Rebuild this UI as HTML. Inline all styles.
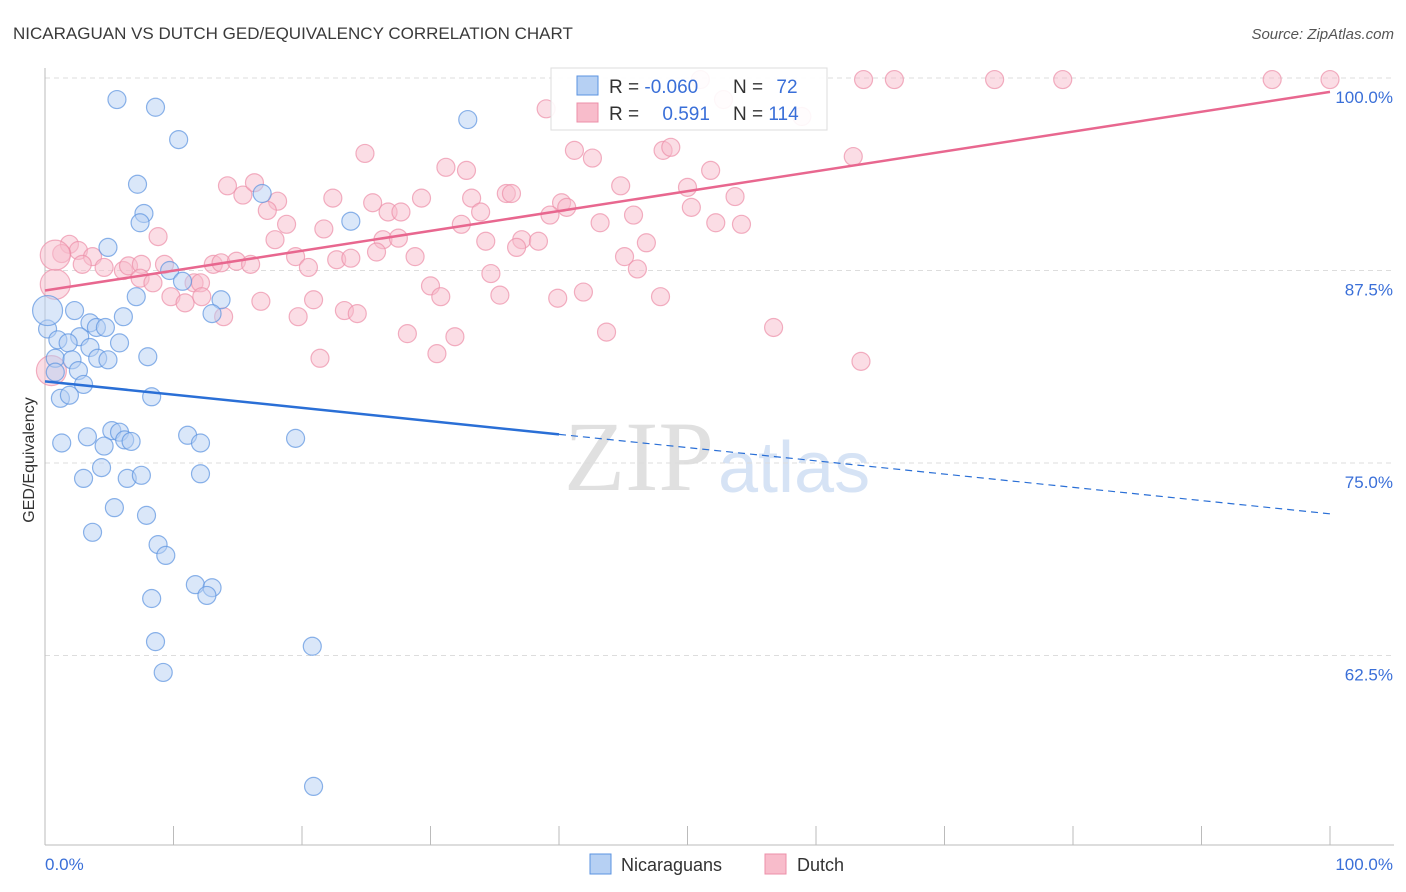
<!DOCTYPE html>
<html><head><meta charset="utf-8">
<style>
body{margin:0;background:#fff;font-family:"Liberation Sans",sans-serif;}
#wrap{position:relative;width:1406px;height:892px;overflow:hidden;}
svg{position:absolute;left:0;top:0;}
</style></head>
<body>
<div id="wrap">
<svg id="chart" width="1406" height="892">
<text x="13" y="39" font-size="17" fill="#3a3a3a">NICARAGUAN VS DUTCH GED/EQUIVALENCY CORRELATION CHART</text>
<text x="1394" y="39" font-size="15" fill="#555" font-style="italic" text-anchor="end">Source: ZipAtlas.com</text>
<text x="34" y="460" font-size="16" fill="#333" transform="rotate(-90 34 460)" text-anchor="middle">GED/Equivalency</text>
<text x="714" y="490" font-size="100" fill="#e0e0e0" font-family="Liberation Serif,serif" text-anchor="end">ZIP</text>
<text x="718" y="492" font-size="72" fill="#d6e3f5">atlas</text>
<g id="grid"></g><g id="pts"></g><g id="lines"></g>
</svg>
</div>
<script>
const blueX=[5.6,8.6,10.4,32.9,7.2,16.9,7.7,7.4,23.8,4.9,9.7,10.7,7.1,13.7,13.0,2.3,6.1,3.5,4.0,4.7,0.2,2.7,1.0,1.8,5.8,3.5,0.8,2.1,4.1,4.9,8.0,2.6,0.8,3.0,8.3,1.2,1.9,1.3,3.3,5.2,5.8,6.2,6.7,11.1,12.1,19.5,4.6,4.4,3.0,6.4,7.5,12.1,5.4,7.9,3.7,8.8,9.4,11.7,13.0,12.6,8.3,8.6,20.8,9.2,20.9,0.2];
const blueY=[98.6,98.1,96.0,97.3,93.1,92.5,91.2,90.6,90.7,89.0,87.5,86.8,85.8,85.6,84.7,84.9,84.5,84.1,83.8,83.8,83.7,83.2,83.0,82.8,82.8,82.5,81.8,81.7,81.8,81.7,81.9,81.0,80.9,80.1,79.3,79.2,79.4,76.3,76.7,77.1,77.0,76.5,76.4,76.8,76.3,76.6,76.1,74.7,74.0,74.0,74.2,74.3,72.1,71.6,70.5,69.7,69.0,67.1,66.9,66.4,66.2,63.4,63.1,61.4,54.0,84.9];
const pinkX=[63.7,66.1,73.9,79.2,95.5,100,51.0,39.0,52.8,58.9,24.9,41.2,42.6,48.1,48.7,62.9,31.2,32.8,51.8,14.2,15.4,16.3,18.1,44.8,50.0,53.7,22.4,25.5,29.3,35.9,36.3,33.2,40.2,40.6,17.3,26.7,27.7,33.9,39.3,45.8,50.3,18.8,21.7,32.4,43.2,52.2,54.2,8.8,17.9,26.3,27.5,34.3,37.1,38.4,46.8,1.9,2.6,1.3,3.7,2.9,4.6,6.1,6.5,7.5,9.3,13.1,13.7,14.9,16.0,19.5,20.5,22.7,23.8,25.8,28.8,36.7,45.1,34.7,46.1,7.4,8.4,11.6,12.1,9.8,10.9,12.2,16.8,20.9,30.0,30.8,35.4,39.9,41.9,47.9,13.9,19.7,23.3,24.3,28.2,31.9,43.7,56.7,21.4,30.5,63.5,0.8,0.8,0.5];
const pinkY=[99.9,99.9,99.9,99.9,99.9,99.9,99.9,98.0,98.6,97.5,95.1,95.3,94.8,95.3,95.5,94.9,94.2,94.0,94.0,93.0,92.4,93.2,92.0,93.0,92.9,92.3,92.2,91.9,92.2,92.5,92.5,92.2,91.9,91.6,91.4,91.3,91.3,91.3,91.1,91.1,91.6,90.5,90.2,90.5,90.6,90.6,90.5,89.7,89.5,89.5,89.6,89.4,89.5,89.4,89.3,89.2,88.8,88.6,88.4,87.9,87.7,87.5,87.8,87.9,87.9,87.9,88.0,88.1,87.9,88.4,87.7,88.2,88.3,88.7,88.4,89.0,88.4,87.3,87.6,87.0,86.7,86.7,86.7,85.8,85.4,85.8,85.5,85.6,86.5,85.8,85.9,85.7,86.1,85.8,84.5,84.5,84.9,84.7,83.4,83.2,83.5,83.8,81.8,82.1,81.6,86.6,88.5,81.0];
const yTicks=[100,87.5,75,62.5];
const yTickLabels=["100.0%","87.5%","75.0%","62.5%"];
const blueTrend=[80.3,71.7];
const pinkTrend=[86.2,99.1];
const NS="http://www.w3.org/2000/svg";
const X=v=>45+v*12.85, Y=v=>78+(100-v)*15.4;
function mk(tag,attrs,parent){const e=document.createElementNS(NS,tag);for(const k in attrs)e.setAttribute(k,attrs[k]);parent.appendChild(e);return e;}
const grid=document.getElementById('grid'),pts=document.getElementById('pts'),lines=document.getElementById('lines');
yTicks.forEach((t,i)=>{
 const l=mk('line',{x1:45,x2:1394,y1:Y(t),y2:Y(t),stroke:'#ddd','stroke-dasharray':'5,4'},grid);
 
 
 const tx=mk('text',{x:1393,y:Y(t)+25,'font-size':17,fill:'#3a6fd8','text-anchor':'end'},grid);
 tx.textContent=yTickLabels[i];
 
 
});
const ax=mk('line',{x1:45,x2:45,y1:68,y2:845,stroke:'#bbb'},grid);


const bx=mk('line',{x1:45,x2:1394,y1:845,y2:845,stroke:'#bbb'},grid);


for(let i=0;i<=10;i++){const t=mk('line',{x1:X(i*10),x2:X(i*10),y1:826,y2:845,stroke:'#bbb'},grid);
 
 }
[["0.0%",45,'start'],["100.0%",1393,'end']].forEach(a=>{const t=mk('text',{x:a[1],y:870,'font-size':17,fill:'#3a6fd8','text-anchor':a[2]},grid);t.textContent=a[0];
 
 });
function dot(x,y,r,fill,stroke,name){const c=mk('circle',{cx:X(x),cy:Y(y),r:r,fill:fill,'fill-opacity':0.5,stroke:stroke,'stroke-opacity':0.7,'stroke-width':1.2},pts);
 
 }
pinkX.forEach((x,i)=>dot(x,pinkY[i],i>=pinkX.length-3?15:9,'#f8bccb','#ec8fa8','dutch-point'));
blueX.forEach((x,i)=>dot(x,blueY[i],i==blueX.length-1?15:9,'#b6d0f3','#5b93e0','nicaraguan-point'));
const bs=blueTrend[0]+(blueTrend[1]-blueTrend[0])*0.4;
const l1=mk('line',{x1:X(0),y1:Y(blueTrend[0]),x2:X(40),y2:Y(bs),stroke:'#2a6fd6','stroke-width':2.5},lines);


const l2=mk('line',{x1:X(40),y1:Y(bs),x2:X(100),y2:Y(blueTrend[1]),stroke:'#2a6fd6','stroke-width':1.2,'stroke-dasharray':'7,5'},lines);


const l3=mk('line',{x1:X(0),y1:Y(pinkTrend[0]),x2:X(100),y2:Y(pinkTrend[1]),stroke:'#e8678f','stroke-width':2.5},lines);


</script>
<svg width="1406" height="892" style="position:absolute;left:0;top:0">
<g>
<rect x="551" y="68" width="276" height="62" fill="#fff" fill-opacity="0.9" stroke="#ddd"/>
<rect x="577" y="76" width="21" height="19" fill="#b6d0f3" stroke="#5b93e0"/>
<rect x="577" y="103" width="21" height="19" fill="#f8bccb" stroke="#ec8fa8"/>
<text x="609" y="93" font-size="19" fill="#333">R = <tspan fill="#3a6fd8">-0.060</tspan></text>
<text x="733" y="93" font-size="19" fill="#333">N = <tspan fill="#3a6fd8" dx="8">72</tspan></text>
<text x="609" y="120" font-size="19" fill="#333">R = <tspan fill="#3a6fd8" dx="18">0.591</tspan></text>
<text x="733" y="120" font-size="19" fill="#333">N = <tspan fill="#3a6fd8">114</tspan></text>
</g>
<g>
<rect x="590" y="854" width="21" height="20" fill="#b6d0f3" stroke="#5b93e0"/>
<text x="621" y="871" font-size="18" fill="#333">Nicaraguans</text>
<rect x="765" y="854" width="21" height="20" fill="#f8bccb" stroke="#ec8fa8"/>
<text x="797" y="871" font-size="18" fill="#333">Dutch</text>
</g>
</svg>
</body></html>
